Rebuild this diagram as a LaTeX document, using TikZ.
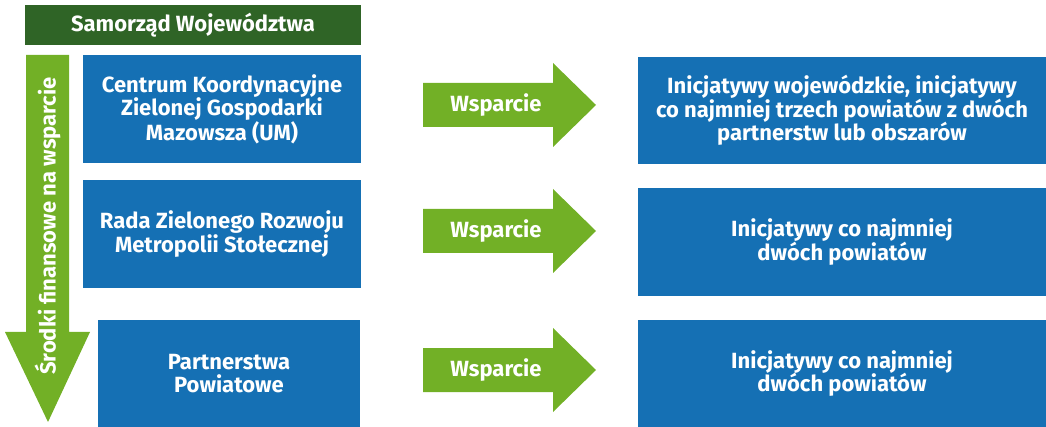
\documentclass[tikz,border=0pt]{standalone}
\usepackage{fontspec}
\setmainfont{Fira Sans}
\definecolor{boxblue}{HTML}{1570B4}
\definecolor{lgreen}{HTML}{72B026}
\definecolor{dgreen}{HTML}{2F6426}
\begin{document}
\begin{tikzpicture}[x=1pt,y=-1pt,
  txt/.style={text=white,font=\bfseries\fontsize{22}{23.5}\selectfont,align=center,inner sep=0pt},
  bluebox/.style={txt,rectangle,fill=boxblue,draw=none},
  sarrow/.style={fill=lgreen,draw=none}]
\useasboundingbox (0,0) rectangle (1046,427);
% header
\node[txt,fill=dgreen,minimum width=336pt,minimum height=40pt] (head) at (193,25) {Samorząd Województwa};
% vertical arrow
\fill[sarrow] (26,55) -- (69,55) -- (69,332) -- (90,332) -- (48,422) -- (5,332) -- (26,332) -- cycle;
\node[txt,rotate=90] (fin) at (47.5,226) {Środki finansowe na wsparcie};
% left boxes
\node[bluebox,minimum width=278pt,minimum height=108pt] (b1) at (222,109) {Centrum Koordynacyjne\\Zielonej Gospodarki\\Mazowsza (UM)};
\node[bluebox,minimum width=278pt,minimum height=108pt] (b2) at (222,234) {Rada Zielonego Rozwoju\\Metropolii Stołecznej};
\node[bluebox,minimum width=262pt,minimum height=107pt] (b3) at (229,373.5) {Partnerstwa\\Powiatowe};
% right boxes
\node[bluebox,minimum width=408pt,minimum height=107pt] (r1) at (842,110.5) {Inicjatywy wojewódzkie, inicjatywy\\co najmniej trzech powiatów z dwóch\\partnerstw lub obszarów};
\node[bluebox,minimum width=408pt,minimum height=108pt] (r2) at (842,242) {Inicjatywy co najmniej\\dwóch powiatów};
\node[bluebox,minimum width=408pt,minimum height=107pt] (r3) at (842,373.5) {Inicjatywy co najmniej\\dwóch powiatów};
% support arrows
\foreach \c/\n in {105/w1,231/w2,370/w3}{
  \fill[sarrow] (423,\c-22) -- (553,\c-22) -- (553,\c-42) -- (596,\c) -- (553,\c+42) -- (553,\c+22) -- (423,\c+22) -- cycle;
  \node[txt] (\n) at (496,\c) {Wsparcie};
}
\end{tikzpicture}
\end{document}
